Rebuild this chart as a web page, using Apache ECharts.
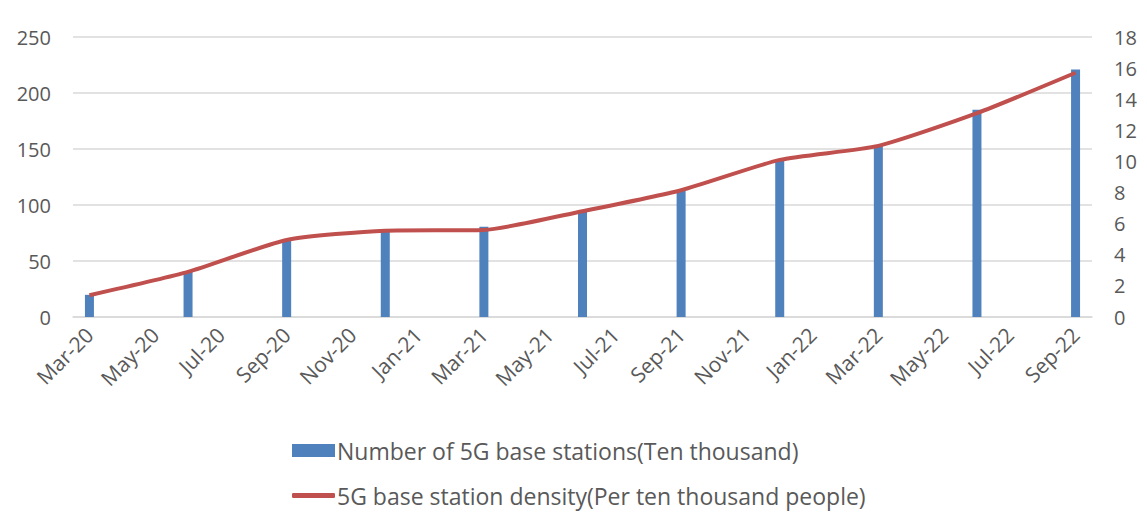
<!DOCTYPE html>
<html lang="en">
  <head>
    <meta charset="UTF-8" />
    <script src="https://cdn.jsdelivr.net/npm/echarts@6/dist/echarts.min.js"></script>
    <title>5G base stations</title>
  </head>
  <body style="margin: 0">
    <div id="main" style="width: 1147px; height: 515px"></div>
  </body>
</html>

<script>
  // monthly slots on the x axis
  const months = [
    "Mar-20", "Apr-20", "May-20", "Jun-20", "Jul-20", "Aug-20", "Sep-20", "Oct-20",
    "Nov-20", "Dec-20", "Jan-21", "Feb-21", "Mar-21", "Apr-21", "May-21", "Jun-21",
    "Jul-21", "Aug-21", "Sep-21", "Oct-21", "Nov-21", "Dec-21", "Jan-22", "Feb-22",
    "Mar-22", "Apr-22", "May-22", "Jun-22", "Jul-22", "Aug-22", "Sep-22",
  ];
  // quarterly readings
  const quarters = [
    "Mar-20", "Jun-20", "Sep-20", "Dec-20", "Mar-21", "Jun-21",
    "Sep-21", "Dec-21", "Mar-22", "Jun-22", "Sep-22",
  ];
  const stations = [19.8, 41, 68, 76, 80.5, 94, 113, 140, 153.6, 185, 221];
  const density = [1.4, 2.9, 4.95, 5.55, 5.6, 6.8, 8.15, 10.1, 11.0, 13.1, 15.7];

  const barName = "Number of 5G base stations(Ten thousand)";
  const lineName = "5G base station density(Per ten thousand people)";

  const textColor = "#595959";
  const gridColor = "#d9d9d9";
  const font = "Open Sans";

  const chart = echarts.init(document.getElementById("main"), null, { renderer: "svg" });

  const legendText = { fontSize: 23, color: textColor, fontFamily: font, padding: [0, 0, 0, -3] };

  chart.setOption({
    animation: false,
    textStyle: { fontFamily: font },
    grid: { left: 73, right: 55, top: 37, bottom: 198 },
    legend: [
      {
        left: 287,
        top: 434,
        itemWidth: 43,
        itemHeight: 13,
        textStyle: legendText,
        data: [{ name: barName, icon: "rect" }],
      },
      {
        left: 287,
        top: 479,
        itemWidth: 43,
        itemHeight: 5,
        textStyle: legendText,
        data: [{ name: lineName, icon: "roundRect" }],
      },
    ],
    xAxis: {
      type: "category",
      data: months,
      boundaryGap: true,
      axisLine: { lineStyle: { color: gridColor, width: 1.5 } },
      axisTick: { interval: 1, length: 8, lineStyle: { color: "#cfcfcf", width: 1.5 } },
      axisLabel: {
        interval: 1,
        rotate: 45,
        fontSize: 21,
        color: textColor,
        margin: 14,
      },
    },
    yAxis: [
      {
        type: "value",
        min: 0,
        max: 250,
        interval: 50,
        axisLine: { show: false },
        axisTick: { show: false },
        splitLine: { lineStyle: { color: gridColor, width: 1.5 } },
        axisLabel: { fontSize: 20, color: textColor, margin: 22 },
      },
      {
        type: "value",
        min: 0,
        max: 18,
        interval: 2,
        axisLine: { show: false },
        axisTick: { show: false },
        splitLine: { show: false },
        axisLabel: { fontSize: 20, color: textColor, margin: 22 },
      },
    ],
    series: [
      {
        name: barName,
        type: "bar",
        barWidth: 9,
        itemStyle: { color: "#4f81bd" },
        data: quarters.map((q, i) => [q, stations[i]]),
      },
      {
        name: lineName,
        type: "line",
        yAxisIndex: 1,
        smooth: 0.2,
        symbol: "none",
        lineStyle: { color: "#c0504d", width: 4 },
        itemStyle: { color: "#c0504d" },
        data: quarters.map((q, i) => [q, density[i]]),
      },
    ],
  });
</script>
